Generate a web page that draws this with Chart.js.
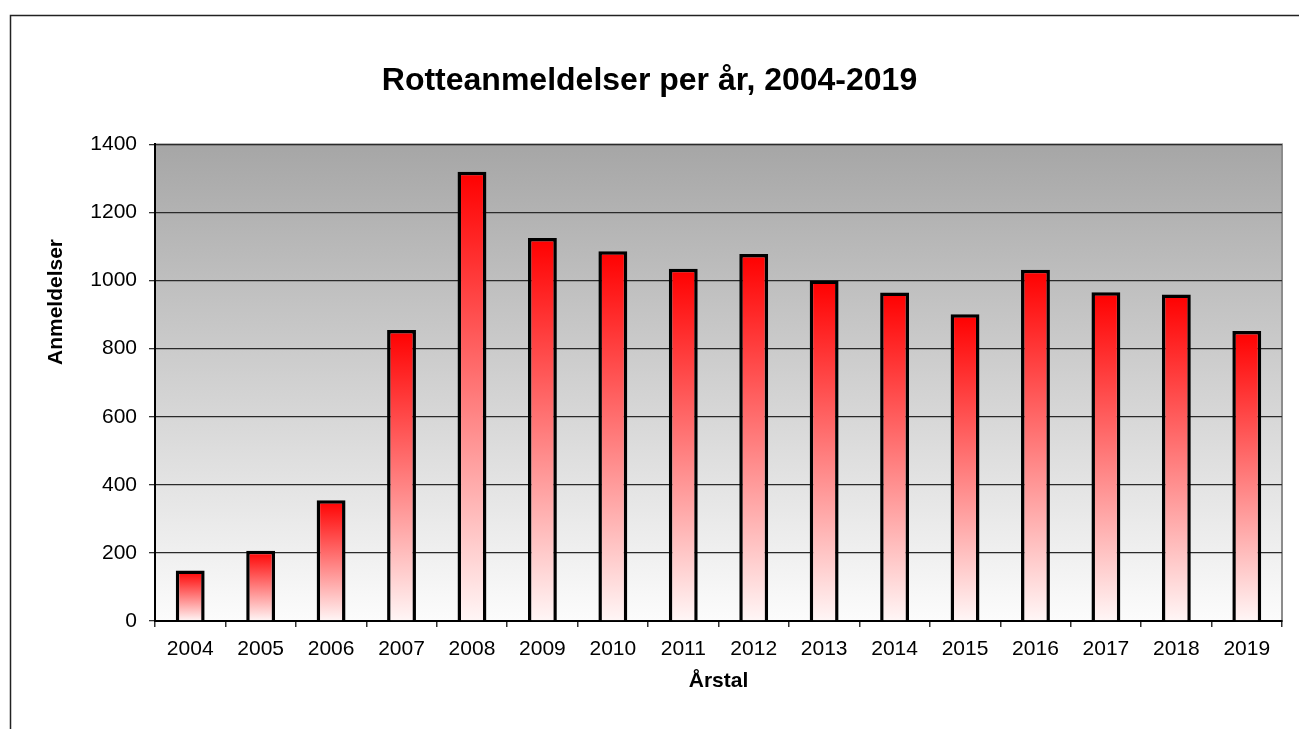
<!DOCTYPE html>
<html>
<head>
<meta charset="utf-8">
<script src="https://cdn.jsdelivr.net/npm/chart.js@4/dist/chart.umd.min.js"></script>
<style>
  body { margin: 0; background: #fff; overflow: hidden; }
  canvas { display: block; }
</style>
</head>
<body>
<canvas id="bar-chart" width="1299" height="729"></canvas>
<script>
const years = ['2004', '2005', '2006', '2007', '2008', '2009', '2010', '2011',
    '2012', '2013', '2014', '2015', '2016', '2017', '2018', '2019'];
const reports = [148, 206, 355, 855, 1320, 1125, 1086, 1035, 1078, 1000, 965, 901, 1032, 966, 959, 852];
const yMin = 0;
const yMax = 1400;
const yStep = 200;

const font = "'Liberation Sans', Arial, sans-serif";

// red at the top of each bar fading to white at its base
function barFill(c) {
    const y = c.chart.scales.y;
    if (!y || c.raw === undefined) return '#ff0000';
    const top = y.getPixelForValue(c.raw);
    const base = y.getPixelForValue(0);
    if (!isFinite(top) || !isFinite(base) || top === base) return '#ff0000';
    const g = c.chart.ctx.createLinearGradient(0, top, 0, base);
    g.addColorStop(0, '#ff0000');
    g.addColorStop(1, '#fff6f6');
    return g;
}

const plotBg = {
    id: 'plotBg',
    beforeDraw(chart) {
        const ctx = chart.ctx;
        const a = chart.chartArea;
        ctx.save();
        ctx.strokeStyle = '#222';
        ctx.lineWidth = 1.5;
        ctx.beginPath();
        ctx.moveTo(10.5, chart.height);
        ctx.lineTo(10.5, 15.5);
        ctx.lineTo(chart.width, 15.5);
        ctx.stroke();

        const g = ctx.createLinearGradient(0, a.top, 0, a.bottom);
        g.addColorStop(0, '#a6a6a6');
        g.addColorStop(1, '#fcfcfc');
        ctx.fillStyle = g;
        ctx.fillRect(a.left, a.top, a.right - a.left, a.bottom - a.top);
        ctx.strokeStyle = '#8c8c8c';
        ctx.lineWidth = 2;
        ctx.strokeRect(a.left, a.top, a.right - a.left, a.bottom - a.top);
        ctx.restore();
    },
    afterDraw(chart) {
        // value axis title sits above the middle of the plot, as in the original
        const ctx = chart.ctx;
        ctx.save();
        ctx.translate(56, 302);
        ctx.rotate(-Math.PI / 2);
        ctx.fillStyle = '#000';
        ctx.font = 'bold 21px ' + font;
        ctx.textAlign = 'center';
        ctx.textBaseline = 'middle';
        ctx.fillText('Anmeldelser', 0, 0);
        ctx.restore();
    }
};

let barChart = new Chart(document.getElementById('bar-chart').getContext('2d'), {
    type: 'bar',
    data: {
        labels: years,
        datasets: [{
            label: 'Anmeldelser',
            data: reports,
            backgroundColor: barFill,
            borderColor: '#000',
            borderWidth: 3.5,
            borderSkipped: 'start',
            categoryPercentage: 1,
            barPercentage: 0.41
        }]
    },
    options: {
        responsive: false,
        animation: false,
        devicePixelRatio: 1,
        layout: {
            padding: { left: 17, right: 17, top: 0, bottom: 0 }
        },
        plugins: {
            legend: { display: false },
            tooltip: { enabled: false },
            title: {
                display: true,
                text: 'Rotteanmeldelser per år, 2004-2019',
                color: '#000',
                font: { family: font, size: 32, weight: 'bold', lineHeight: 1.2 },
                padding: { top: 62, bottom: 44 }
            }
        },
        scales: {
            x: {
                afterFit: (s) => { s.height = 108; },
                grid: {
                    offset: true,
                    drawOnChartArea: false,
                    drawTicks: true,
                    tickLength: 6,
                    tickColor: '#333',
                    lineWidth: 1.5
                },
                border: { display: true, color: '#000', width: 2 },
                ticks: {
                    color: '#000',
                    padding: 10,
                    maxRotation: 0,
                    autoSkip: false,
                    font: { family: font, size: 21 }
                },
                title: {
                    display: true,
                    text: 'Årstal',
                    color: '#000',
                    font: { family: font, size: 21, weight: 'bold', lineHeight: 1.2 },
                    padding: { top: 0, bottom: 35 }
                }
            },
            y: {
                min: yMin,
                max: yMax,
                afterFit: (s) => { s.width = 138; },
                grid: {
                    color: '#2a2a2a',
                    lineWidth: 1.3,
                    drawTicks: true,
                    tickLength: 6,
                    tickColor: '#333'
                },
                border: { display: true, color: '#000', width: 2 },
                ticks: {
                    stepSize: yStep,
                    color: '#000',
                    padding: 12,
                    font: { family: font, size: 21 },
                    callback: (v) => String(v)
                }
            }
        }
    },
    plugins: [plotBg]
});
</script>
</body>
</html>
